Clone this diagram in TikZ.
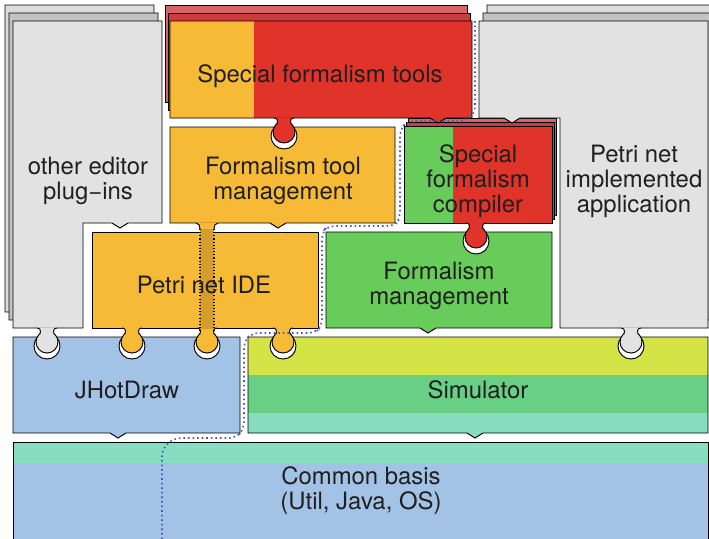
\documentclass[tikz,border=0pt]{standalone}
\usepackage{fontspec}
\setmainfont{TeX Gyre Heros}
\usetikzlibrary{calc}

\definecolor{orangeP}{HTML}{F6BA37}
\definecolor{redP}{HTML}{E0332A}
\definecolor{redB}{HTML}{D96464}
\definecolor{redM}{HTML}{CC3C3C}
\definecolor{greenP}{HTML}{68CC5A}
\definecolor{blueP}{HTML}{A3C3E6}
\definecolor{tealP}{HTML}{86DDC0}
\definecolor{limeP}{HTML}{D4E345}
\definecolor{simgreen}{HTML}{68CF84}
\definecolor{grayP}{HTML}{E2E2E2}
\definecolor{grayB}{HTML}{DCDCDC}
\definecolor{grayM}{HTML}{C2C2C2}
\definecolor{bandC}{HTML}{D59E2C}
\definecolor{routeC}{HTML}{4A5AB8}

\tikzset{
  piece/.style={draw=black, line width=0.55pt},
  lbl/.style={font=\fontsize{13.6}{14.2}\selectfont, align=center, text=black!88, inner sep=0pt},
  route/.style={draw=routeC, line width=0.9pt, dash pattern=on 0.9pt off 1.7pt, rounded corners=4},
  seam/.style={draw=black, line width=0.6pt, dash pattern=on 0.6pt off 1.2pt}
}

% knob of a piece: x, y of its lower edge, colour
\newcommand{\plugknob}[3]{%
  \fill[white,draw=black,line width=0.55pt] (#1,#2+18) circle (13);
  \fill[#3,draw=black,line width=0.55pt] (#1,#2+14) circle (11);
  \fill[#3] (#1-10,#2-0.7) -- (#1-10,#2) .. controls (#1-7,#2) and (#1-6,#2+2) .. (#1-7,#2+6)
    -- (#1+7,#2+6) .. controls (#1+6,#2+2) and (#1+7,#2) .. (#1+10,#2) -- (#1+10,#2-0.7) -- cycle;
  \draw[line width=0.55pt] (#1-10,#2) .. controls (#1-7,#2) and (#1-6,#2+2) .. (#1-7,#2+6);
  \draw[line width=0.55pt] (#1+10,#2) .. controls (#1+7,#2) and (#1+6,#2+2) .. (#1+7,#2+6);
}

\begin{document}
\begin{tikzpicture}[x=0.02cm,y=-0.02cm]
    \useasboundingbox (0,0) rectangle (709,538);
    \clip (0,0) rectangle (709,538);

    % Common basis
    \fill[blueP] (13,442) rectangle (708,545);
    \fill[tealP] (13,442) rectangle (708,463);
    \draw[piece] (13,545) -- (13,442) -- (708,442) -- (708,545);

    % JHotDraw
    \draw[piece,fill=blueP] (13,337) -- (240,337) -- (240,433) -- (126,433) -- (118,438)
        -- (110,433) -- (13,433) -- cycle;

    % Simulator
    \fill[tealP] (248,337) -- (708,337) -- (708,433) -- (483,433) -- (475,438)
        -- (467,433) -- (248,433) -- cycle;
    \fill[simgreen] (248,375) rectangle (708,413);
    \fill[limeP] (248,337) rectangle (708,375);
    \draw[piece] (248,337) -- (708,337) -- (708,433) -- (483,433) -- (475,438)
        -- (467,433) -- (248,433) -- cycle;

    % other editor plug-ins
    \foreach \dx/\dy/\col in {-8/-16/grayB, -4/-8/grayM, 0/0/grayP}
        \draw[piece,fill=\col,shift={(\dx,\dy)}] (13,21) -- (162,21) -- (162,223) -- (128,223)
            -- (120,228) -- (112,223) -- (83,223) -- (83,328) -- (13,328) -- cycle;
    \plugknob{47}{328}{grayP}

    % Petri net IDE
    \draw[piece,fill=orangeP] (92,232) rectangle (318,328);
    \plugknob{132}{328}{orangeP}
    \plugknob{207}{328}{orangeP}
    \plugknob{283}{328}{orangeP}

    % Formalism management
    \draw[piece,fill=greenP] (326,232) -- (552,232) -- (552,328) -- (436,328) -- (428,333)
        -- (420,328) -- (326,328) -- cycle;

    % Formalism tool management, reaching through the IDE
    \draw[piece,fill=orangeP] (170,127) -- (395,127) -- (395,223) -- (286,223) -- (278,228)
        -- (270,223) -- (170,223) -- cycle;
    \fill[orangeP] (196,222.3) .. controls (199,223) and (200,226) .. (200,229) -- (200,233)
        -- (214,233) -- (214,229) .. controls (214,226) and (215,223) .. (218,222.3) -- cycle;
    \draw[line width=0.55pt] (196,223) .. controls (199,223) and (200,226) .. (200,229);
    \draw[line width=0.55pt] (218,223) .. controls (215,223) and (214,226) .. (214,229);
    \fill[bandC] (200,229) rectangle (214,328.5);
    \draw[seam] (200,229) -- (200,331);
    \draw[seam] (214,229) -- (214,331);

    % Special formalism compiler
    \foreach \dx/\dy/\col in {4/-8/redB, 2/-4/redM}
        \draw[piece,fill=\col,shift={(\dx,\dy)}] (404,126) rectangle (552,223);
    \fill[redP] (404,126) rectangle (552,223);
    \fill[greenP] (404,126) rectangle (453,223);
    \draw[piece] (404,126) rectangle (552,223);
    \plugknob{476}{223}{redP}

    % Special formalism tools
    \foreach \dx/\dy/\col in {-5/-16/redB, -2/-8/redM}
        \draw[piece,fill=\col,shift={(\dx,\dy)}] (170,21) rectangle (472,118);
    \fill[redP] (170,21) -- (472,21) -- (472,118) -- (446,118) -- (438,123) -- (430,118)
        -- (170,118) -- cycle;
    \fill[orangeP] (170,21) rectangle (254,118);
    \draw[piece] (170,21) -- (472,21) -- (472,118) -- (446,118) -- (438,123) -- (430,118)
        -- (170,118) -- cycle;
    \plugknob{284}{118}{redP}

    % Petri net implemented application
    \foreach \dx/\dy/\col in {8/-16/grayB, 4/-8/grayM, 0/0/grayP}
        \draw[piece,fill=\col,shift={(\dx,\dy)}] (479,21) -- (708,21) -- (708,328) -- (560,328)
            -- (560,118) -- (520,118) -- (512,123) -- (504,118) -- (479,118) -- cycle;
    \plugknob{631}{328}{grayP}

    % route of the Petri net part
    \draw[route] (475,21) -- (475,113) -- (466,121) -- (408,121) -- (400,129) -- (400,218)
        -- (395,226) -- (328,226) -- (322,232) -- (322,326) -- (315,333) -- (252,333)
        -- (244,341) -- (244,429) -- (236,438) -- (174,438) -- (162,449) -- (162,545);

    % labels
    \node[lbl] (editors) at (88,180.5) {other editor\\plug−ins};
    \node[lbl] (tools) at (320,76) {Special formalism tools};
    \node[lbl] (ftm) at (283,180.5) {Formalism tool\\management};
    \node[lbl] (compiler) at (478,181) {Special\\formalism\\compiler};
    \node[lbl] (app) at (634,181) {Petri net\\implemented\\application};
    \node[lbl] (ide) at (204,285) {Petri net IDE};
    \node[lbl] (fm) at (439,285.5) {Formalism\\management};
    \node[lbl] (jhot) at (127,390) {JHotDraw};
    \node[lbl] (sim) at (478,390) {Simulator};
    \node[lbl] (basis) at (361,490.5) {Common basis\\(Util, Java, OS)};
\end{tikzpicture}
\end{document}
